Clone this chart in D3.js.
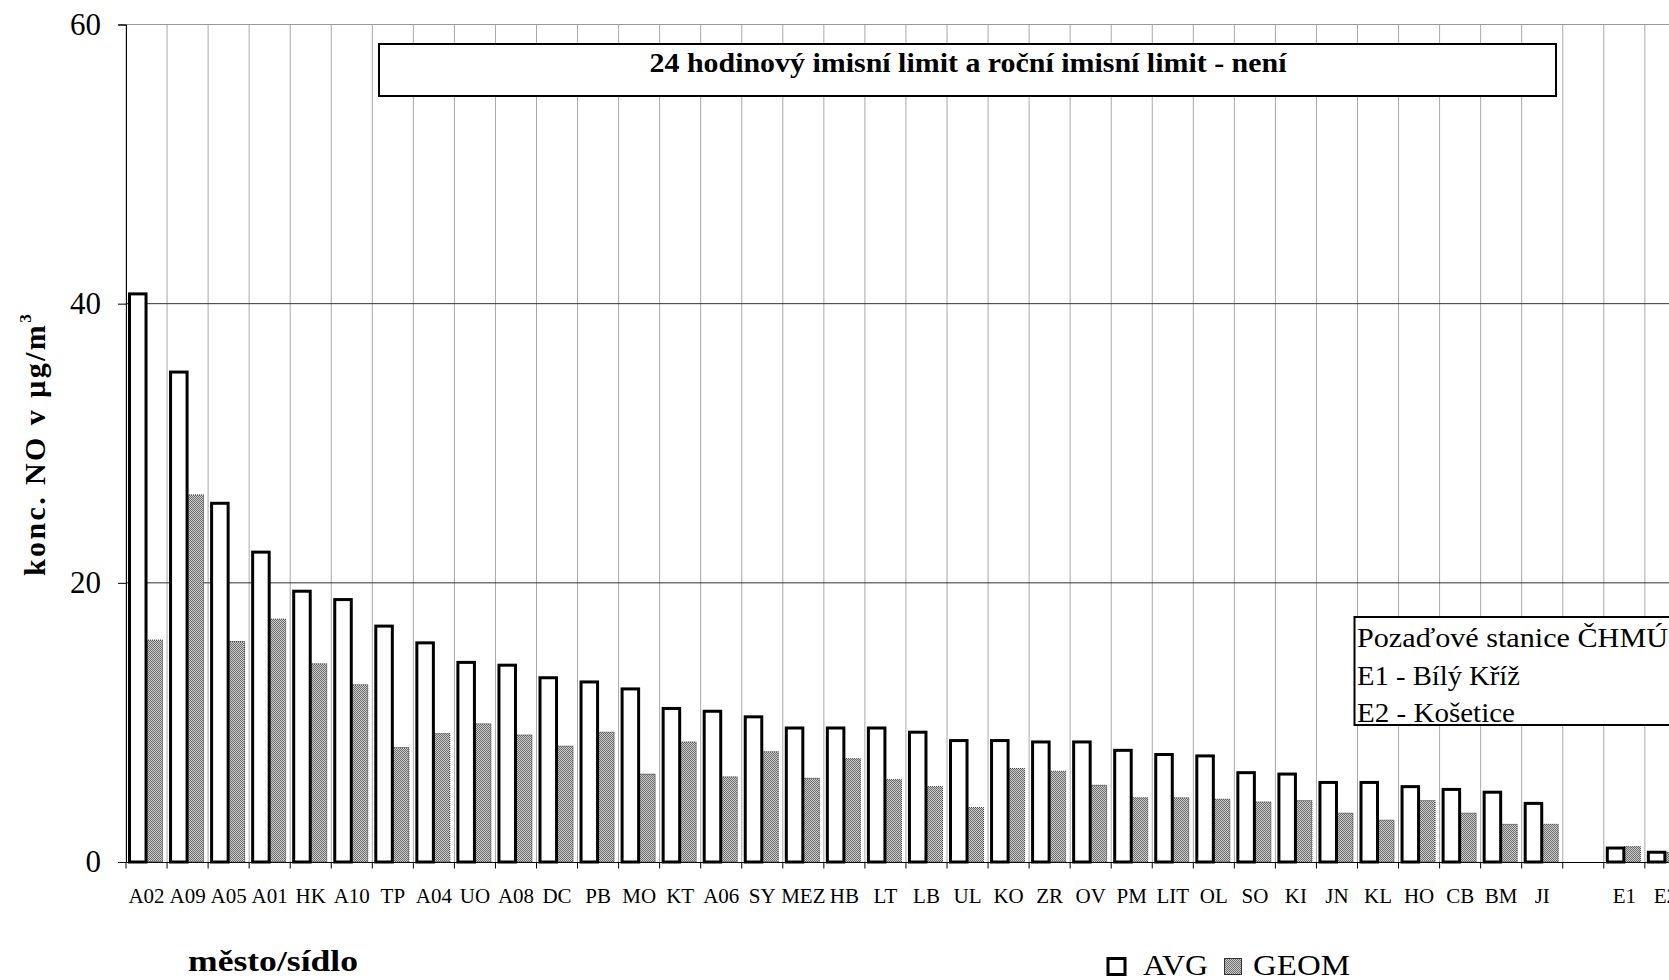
<!DOCTYPE html>
<html>
<head>
<meta charset="utf-8">
<script src="https://cdn.jsdelivr.net/npm/d3@7/dist/d3.min.js"></script>
<style>
  html, body { margin: 0; padding: 0; background: #fff; }
  svg { display: block; font-family: "Liberation Serif", "Times New Roman", serif; }
</style>
</head>
<body>
<svg id="chart" width="1669" height="980"></svg>
<script>
// Stations (sorted by mean), a gap, then the background stations E1/E2
const categories = ["A02","A09","A05","A01","HK","A10","TP","A04","UO","A08","DC","PB","MO","KT","A06","SY","MEZ","HB","LT","LB","UL","KO","ZR","OV","PM","LIT","OL","SO","KI","JN","KL","HO","CB","BM","JI","","E1","E2"];
const avgValues  = [40.7,35.1,25.7,22.2,19.4,18.8,16.9,15.7,14.3,14.1,13.2,12.9,12.4,11.0,10.8,10.4,9.6,9.6,9.6,9.3,8.7,8.7,8.6,8.6,8.0,7.7,7.6,6.4,6.3,5.7,5.7,5.4,5.2,5.0,4.2,null,1.0,0.7];
const geomValues = [15.9,26.3,15.8,17.4,14.2,12.7,8.2,9.2,9.9,9.1,8.3,9.3,6.3,8.6,6.1,7.9,6.0,7.4,5.9,5.4,3.9,6.7,6.5,5.5,4.6,4.6,4.5,4.3,4.4,3.5,3.0,4.4,3.5,2.7,2.7,null,1.1,0.7];
const seriesNames = ["AVG","GEOM"];
const yTicks = [0,20,40,60];

const svg = d3.select("#chart");
const W = 1669;

// Plot area (runs past the right edge of the page)
const plotLeft = 126, plotTop = 24.5, plotBottom = 862;
const bandW = 41.05;

const x = d3.scaleBand().domain(categories).range([plotLeft, plotLeft + bandW * categories.length]).padding(0);
const xs = d3.scaleBand().domain(seriesNames).range([3.5, x.bandwidth() - 4.5]).padding(0);
const y = d3.scaleLinear().domain([0, 60]).range([plotBottom, plotTop]);

// Hatched fill for GEOM bars
const defs = svg.append("defs");
const pat = defs.append("pattern").attr("id", "geomFill").attr("patternUnits", "userSpaceOnUse")
  .attr("width", 2).attr("height", 2);
pat.append("rect").attr("width", 2).attr("height", 2).attr("fill", "#cecece");
pat.append("rect").attr("x", 0).attr("y", 0).attr("width", 1).attr("height", 1).attr("fill", "#6c6c6c");
pat.append("rect").attr("x", 1).attr("y", 1).attr("width", 1).attr("height", 1).attr("fill", "#6c6c6c");

svg.append("rect").attr("width", W).attr("height", 980).attr("fill", "#fff");

// Vertical gridlines at category boundaries
const boundaries = categories.map(c => x(c)).concat([x.range()[1]]);
svg.append("g").selectAll("line").data(boundaries).join("line")
  .attr("x1", d => d).attr("x2", d => d)
  .attr("y1", plotTop).attr("y2", plotBottom)
  .attr("stroke", "#a8a8a8").attr("stroke-width", 1);

// Horizontal gridlines
svg.append("g").selectAll("line").data(yTicks.filter(t => t > 0)).join("line")
  .attr("x1", plotLeft).attr("x2", W)
  .attr("y1", d => y(d)).attr("y2", d => y(d))
  .attr("stroke", d => d === 60 ? "#9a9a9a" : "#333").attr("stroke-width", 1);

// Y axis
const yAxis = d3.axisLeft(y).tickValues(yTicks).tickSize(8).tickPadding(26).tickFormat(d3.format("d"));
const yg = svg.append("g").attr("transform", `translate(${plotLeft},0)`).call(yAxis);
yg.select(".domain").attr("stroke", "#000");
yg.selectAll(".tick line").attr("stroke", "#000");
yg.selectAll(".tick text").attr("font-family", "Liberation Serif, serif").attr("font-size", 31).attr("fill", "#000")
  .attr("x", -25);

// X axis
const xAxis = d3.axisBottom(x).tickSize(0).tickPadding(0).tickFormat(d => d);
const xg = svg.append("g").attr("transform", `translate(0,${plotBottom})`).call(xAxis);
xg.select(".domain").attr("stroke", "#000").attr("stroke-width", 1.2);
xg.selectAll(".tick text").attr("font-family", "Liberation Serif, serif").attr("font-size", 21)
  .attr("fill", "#000").attr("dy", null).attr("y", 41);
svg.append("g").selectAll("line").data(boundaries).join("line")
  .attr("x1", d => d).attr("x2", d => d)
  .attr("y1", plotBottom).attr("y2", plotBottom + 6.5)
  .attr("stroke", "#000").attr("stroke-width", 1);

// Bars
const rows = categories.map((c, i) => ({ cat: c, AVG: avgValues[i], GEOM: geomValues[i] })).filter(r => r.AVG != null);
const barW = xs.bandwidth();

svg.append("g").selectAll("rect").data(rows).join("rect")
  .attr("x", d => x(d.cat) + xs("GEOM"))
  .attr("y", d => y(d.GEOM))
  .attr("width", barW)
  .attr("height", d => y(0) - y(d.GEOM))
  .attr("fill", "url(#geomFill)")
  .attr("stroke", "#333").attr("stroke-width", 1).attr("stroke-dasharray", "1,1");

svg.append("g").selectAll("rect").data(rows).join("rect")
  .attr("x", d => x(d.cat) + xs("AVG"))
  .attr("y", d => y(d.AVG))
  .attr("width", barW)
  .attr("height", d => y(0) - y(d.AVG))
  .attr("fill", "#fff")
  .attr("stroke", "#000").attr("stroke-width", 3);

// Note box at top
svg.append("rect").attr("x", 379).attr("y", 44).attr("width", 1177).attr("height", 52)
  .attr("fill", "#fff").attr("stroke", "#000").attr("stroke-width", 2);
svg.append("text").attr("x", 968).attr("y", 72).attr("text-anchor", "middle")
  .attr("font-size", 27).attr("font-weight", "bold")
  .attr("textLength", 637).attr("lengthAdjust", "spacingAndGlyphs")
  .text("24 hodinový imisní limit  a roční imisní limit - není");

// Background stations box
svg.append("rect").attr("x", 1354.5).attr("y", 617).attr("width", 340).attr("height", 108)
  .attr("fill", "#fff").attr("stroke", "#000").attr("stroke-width", 2);
const boxLines = [
  { t: "Pozaďové stanice ČHMÚ", y: 647, w: 311 },
  { t: "E1 - Bílý Kříž", y: 685, w: 163 },
  { t: "E2 - Košetice", y: 722, w: 158 }
];
svg.append("g").selectAll("text").data(boxLines).join("text")
  .attr("x", 1357).attr("y", d => d.y)
  .attr("font-size", 28)
  .attr("textLength", d => d.w).attr("lengthAdjust", "spacingAndGlyphs")
  .text(d => d.t);

// Y axis title
const yt = svg.append("text")
  .attr("transform", `translate(45,444) rotate(-90)`)
  .attr("text-anchor", "middle")
  .attr("font-size", 30).attr("font-weight", "bold").attr("letter-spacing", 2.4);
yt.append("tspan").text("konc. NO v µg/m");
yt.append("tspan").attr("font-size", 17).attr("dy", -14).text("3");

// X axis title
svg.append("text").attr("x", 188).attr("y", 971)
  .attr("font-size", 30).attr("font-weight", "bold")
  .attr("textLength", 170).attr("lengthAdjust", "spacingAndGlyphs")
  .text("město/sídlo");

// Legend
const legend = [
  { name: "AVG", sx: 1108, tx: 1143, tw: 65, fill: "#fff", stroke: "#000", sw: 3 },
  { name: "GEOM", sx: 1224.5, tx: 1253, tw: 97, fill: "url(#geomFill)", stroke: "#333", sw: 1 }
];
const lg = svg.append("g").selectAll("g").data(legend).join("g");
lg.append("rect").attr("x", d => d.sx).attr("y", 958.5).attr("width", 17).attr("height", 16)
  .attr("fill", d => d.fill).attr("stroke", d => d.stroke).attr("stroke-width", d => d.sw);
lg.append("text").attr("x", d => d.tx).attr("y", 975).attr("font-size", 30)
  .attr("textLength", d => d.tw).attr("lengthAdjust", "spacingAndGlyphs")
  .text(d => d.name);
</script>
</body>
</html>
